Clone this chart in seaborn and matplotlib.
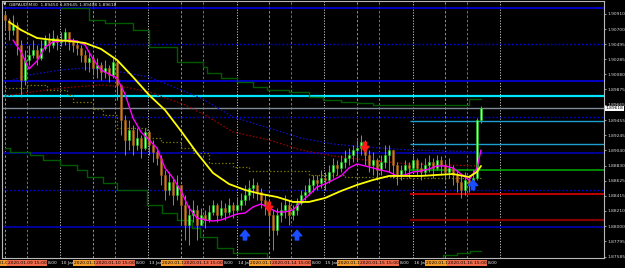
import numpy as np
import pandas as pd
import matplotlib
matplotlib.use("Agg")
import matplotlib.pyplot as plt
import matplotlib.transforms as mtransforms
from matplotlib import font_manager
import seaborn as sns

# ---------------- data ----------------
symbol = "GBPAUD,M30"
header_quote = [1.89450, 1.89645, 1.89408, 1.89618]   # O H L C of the last bar
bid = 1.89618
first_open = 1.90895

close = [
    1.90826, 1.90689, 1.90758, 1.90484, 1.90004, 1.90278, 1.90347, 1.90415, 1.90305, 1.90442,
    1.90552, 1.90484, 1.90579, 1.90525, 1.90552, 1.90662, 1.90525, 1.90484, 1.90442, 1.90347,
    1.90251, 1.90305, 1.90168, 1.90210, 1.90114, 1.90168, 1.90073, 1.90251, 1.89936, 1.89456,
    1.89182, 1.89319, 1.89114, 1.89209, 1.89072, 1.89292, 1.89114, 1.89018, 1.88935, 1.88703,
    1.88497, 1.88607, 1.88429, 1.88566, 1.88292, 1.88018, 1.88155, 1.88223, 1.88018, 1.88155,
    1.88086, 1.88196, 1.88292, 1.88155, 1.88250, 1.88196, 1.88292, 1.88223, 1.88292, 1.88360,
    1.88429, 1.88524, 1.88566, 1.88470, 1.88360, 1.88292, 1.88155, 1.87949, 1.88155, 1.88223,
    1.88292, 1.88155, 1.88223, 1.88319, 1.88429, 1.88470, 1.88566, 1.88634, 1.88593, 1.88661,
    1.88634, 1.88744, 1.88840, 1.88798, 1.88881, 1.88935, 1.88977, 1.89045, 1.89072, 1.89155,
    1.88977, 1.88840, 1.88908, 1.88771, 1.88881, 1.88977, 1.89045, 1.88840, 1.88703, 1.88771,
    1.88840, 1.88798, 1.88908, 1.88798, 1.88744, 1.88840, 1.88881, 1.88798, 1.88908, 1.88840,
    1.88744, 1.88798, 1.88703, 1.88607, 1.88497, 1.88634, 1.88566, 1.88661, 1.89450, 1.89618,
]
high = [
    1.90936, 1.90853, 1.90895, 1.90799, 1.90552, 1.90415, 1.90484, 1.90552, 1.90484, 1.90552,
    1.90621, 1.90648, 1.90689, 1.90621, 1.90662, 1.90716, 1.90621, 1.90579, 1.90552, 1.90484,
    1.90415, 1.90388, 1.90347, 1.90305, 1.90251, 1.90278, 1.90210, 1.90305, 1.90278, 1.89936,
    1.89525, 1.89456, 1.89388, 1.89346, 1.89251, 1.89346, 1.89319, 1.89182, 1.89072, 1.88977,
    1.88771, 1.88744, 1.88661, 1.88703, 1.88566, 1.88429, 1.88292, 1.88360, 1.88292, 1.88250,
    1.88223, 1.88292, 1.88360, 1.88319, 1.88360, 1.88319, 1.88387, 1.88333, 1.88387, 1.88456,
    1.88566, 1.88634, 1.88661, 1.88607, 1.88524, 1.88429, 1.88360, 1.88223, 1.88250, 1.88333,
    1.88429, 1.88360, 1.88292, 1.88387, 1.88497, 1.88566, 1.88661, 1.88703, 1.88703, 1.88771,
    1.88744, 1.88840, 1.88935, 1.88908, 1.88977, 1.89045, 1.89072, 1.89114, 1.89182, 1.89251,
    1.89182, 1.89045, 1.89018, 1.88935, 1.88977, 1.89114, 1.89114, 1.89045, 1.88881, 1.88840,
    1.88908, 1.88881, 1.88977, 1.88935, 1.88881, 1.88935, 1.88977, 1.88935, 1.88977, 1.88963,
    1.88908, 1.88935, 1.88840, 1.88771, 1.88703, 1.88744, 1.88703, 1.88771, 1.89483, 1.89645,
]
low = [
    1.90689, 1.90552, 1.90621, 1.90347, 1.89771, 1.89936, 1.90210, 1.90305, 1.90210, 1.90278,
    1.90415, 1.90388, 1.90442, 1.90415, 1.90470, 1.90484, 1.90415, 1.90388, 1.90347, 1.90251,
    1.90141, 1.90114, 1.90073, 1.90031, 1.90004, 1.90031, 1.89977, 1.90031, 1.89730, 1.89251,
    1.88977, 1.89045, 1.88977, 1.89045, 1.88935, 1.89045, 1.88977, 1.88881, 1.88840, 1.88566,
    1.88360, 1.88429, 1.88292, 1.88360, 1.88018, 1.87812, 1.87744, 1.88059, 1.87812, 1.88018,
    1.87976, 1.88059, 1.88155, 1.88059, 1.88113, 1.88086, 1.88155, 1.88113, 1.88196, 1.88223,
    1.88292, 1.88360, 1.88387, 1.88360, 1.88250, 1.88155, 1.87881, 1.87675, 1.87881, 1.88059,
    1.88113, 1.88018, 1.88086, 1.88155, 1.88292, 1.88360, 1.88429, 1.88470, 1.88497, 1.88524,
    1.88497, 1.88593, 1.88661, 1.88703, 1.88744, 1.88798, 1.88840, 1.88881, 1.88908, 1.88977,
    1.88840, 1.88744, 1.88703, 1.88634, 1.88703, 1.88798, 1.88744, 1.88661, 1.88566, 1.88634,
    1.88703, 1.88661, 1.88771, 1.88703, 1.88634, 1.88703, 1.88744, 1.88661, 1.88771, 1.88703,
    1.88634, 1.88661, 1.88566, 1.88470, 1.88387, 1.88429, 1.88470, 1.88497, 1.88634, 1.89408,
]

# fast MA (magenta)
fast_ma_bar = list(range(2, 119, 2)) + [119]
fast_ma = [
    1.90552, 1.90388, 1.90155, 1.90264, 1.90456, 1.90525, 1.90538, 1.90552, 1.90538, 1.90484,
    1.90292, 1.90141, 1.90086, 1.90031, 1.89812, 1.89483, 1.89292, 1.89182, 1.89072, 1.88798,
    1.88661, 1.88483, 1.88250, 1.88113, 1.88086, 1.88072, 1.88086, 1.88127, 1.88168, 1.88181,
    1.88264, 1.88305, 1.88250, 1.88196, 1.88196, 1.88223, 1.88333, 1.88429, 1.88538, 1.88579,
    1.88634, 1.88689, 1.88798, 1.88853, 1.88826, 1.88798, 1.88771, 1.88744, 1.88689, 1.88703,
    1.88744, 1.88757, 1.88785, 1.88826, 1.88826, 1.88798, 1.88716, 1.88634, 1.88798, 1.89045,
]
# slow MA (yellow)
slow_ma_bar = [1, 4, 8, 12, 16, 20, 24, 28, 32, 36, 40, 44, 48, 52, 56, 60, 64, 68, 72, 76,
               80, 84, 88, 92, 96, 100, 104, 108, 112, 116, 118, 119]
slow_ma = [
    1.90799, 1.90689, 1.90579, 1.90552, 1.90538, 1.90511, 1.90429, 1.90278, 1.90045, 1.89799,
    1.89593, 1.89305, 1.89004, 1.88730, 1.88579, 1.88497, 1.88442, 1.88401, 1.88333, 1.88333,
    1.88387, 1.88483, 1.88566, 1.88634, 1.88689, 1.88689, 1.88689, 1.88703, 1.88716, 1.88675,
    1.88744, 1.88826,
]
# long MAs (dotted)
blue_ma_bar = [2, 6, 14, 20, 26, 36, 41, 49, 57, 66, 74, 82, 90, 101, 119]
blue_ma = [1.90004, 1.90073, 1.90141, 1.90168, 1.90141, 1.90045, 1.89936, 1.89757,
           1.89497, 1.89346, 1.89209, 1.89127, 1.89086, 1.89045, 1.89018]
red_ma_bar = [0, 5, 14, 24, 30, 36, 45, 50, 57, 66, 74, 82, 90, 101, 119]
red_ma = [1.89785, 1.89826, 1.89894, 1.89936, 1.89908, 1.89840, 1.89662, 1.89525,
          1.89292, 1.89182, 1.89045, 1.88963, 1.88908, 1.88853, 1.88826]
# step channels
olive_bar = [0, 5.5, 10.5, 15.5, 17, 22, 24.5, 28, 35.5, 39, 44, 47, 51, 57, 61, 76, 85, 97.5, 119]
olive_lvl = [1.89894, 1.89936, 1.89867, 1.89799, 1.89703, 1.89607, 1.89525, 1.89346, 1.89209,
             1.89155, 1.89072, 1.89004, 1.88867, 1.88812, 1.88757, 1.88703, 1.88675, 1.88661, 1.88661]
upper_bar = [14, 21, 25, 32, 36, 43, 49.5, 50.5, 54, 58, 62, 65.5, 71, 76, 79.5, 84, 88, 92, 116, 119]
upper_lvl = [1.90990, 1.90826, 1.90785, 1.90689, 1.90456, 1.90251, 1.90182, 1.90100, 1.90031,
             1.89977, 1.89908, 1.89867, 1.89840, 1.89771, 1.89730, 1.89703, 1.89689, 1.89662,
             1.89744, 1.89744]
lower_bar = [0, 1.25, 6.25, 9.5, 13.75, 18, 20.5, 24.5, 28, 35.5, 39.25, 43, 46.75, 48.75,
             53, 57, 65.5, 109.5, 113, 116.25, 119]
lower_lvl = [1.89072, 1.89018, 1.88977, 1.88908, 1.88840, 1.88771, 1.88675, 1.88593, 1.88497,
             1.88292, 1.88181, 1.88086, 1.87976, 1.87853, 1.87702, 1.87634, 1.87538, 1.87607,
             1.87634, 1.87661, 1.87661]

# horizontal levels
full_levels = [1.90990, 1.90497, 1.89990, 1.89785, bid, 1.89497, 1.89004, 1.88497, 1.87990]
full_kinds = ["blue", "bluedot", "blue", "cyan", "gray", "bluedot", "navy", "bluedot", "navy"]
part_start_bar = 101.25
part_levels = [1.89442, 1.89127, 1.88771, 1.88442, 1.88086]
part_kinds = ["teal", "teal", "green", "red", "darkred"]

# signals
buy_bar = [60, 73, 117]
buy_price = [1.87945, 1.87945, 1.88634]
sell_bar = [66, 90]
sell_price = [1.88196, 1.89018]

# time markers
day_sep_bar = [13.75, 35.75, 58.0, 79.75, 102.0, 123.75]
day_labels = ["10 Jan 2020", "13 Jan 2020", "14 Jan 2020", "15 Jan 2020", "16 Jan 2020"]
orange_bar = [0, 22, 44, 66, 88, 110]
red_bar = [5.5, 27.5, 49.5, 71.5, 93.5, 115.5]
session_dates = ["2020.01.09", "2020.01.10", "2020.01.13", "2020.01.14", "2020.01.15", "2020.01.16"]
orange_time = "08:00"
red_time = "15:00"

price_ticks = [1.90910, 1.90700, 1.90495, 1.90285, 1.90080, 1.89875, 1.89665, 1.89455, 1.89245,
               1.89040, 1.88830, 1.88625, 1.88415, 1.88210, 1.88000, 1.87795, 1.87585]

# ---------------- style ----------------
sns.set_theme(style="dark", rc={"axes.facecolor": "black", "figure.facecolor": "black"})
names = {f.name for f in font_manager.fontManager.ttflist}
narrow = "Liberation Sans Narrow" if "Liberation Sans Narrow" in names else "DejaVu Sans"
plt.rcParams["font.family"] = [narrow, "DejaVu Sans"]
small = 4.0 if narrow != "DejaVu Sans" else 3.2
tick_fs = 4.3 if narrow != "DejaVu Sans" else 3.2

W, H = 625, 268
fig = plt.figure(figsize=(W / 100, H / 100), dpi=100)
ax = fig.add_axes([2 / W, 10 / H, 602 / W, 257 / H])
ax.set_facecolor("black")
ax.grid(False)
ax.set_xlim(-0.75, -0.75 + 602 / 4)
ax.set_ylim(1.87565, 1.91086)

# vertical separators
for b in day_sep_bar:
    ax.axvline(b, color="#c8c8c8", lw=0.7, ls=(0, (1.2, 1.6)), zorder=1)
for b in orange_bar:
    ax.axvline(b, color="#d0802e", lw=0.7, ls=(0, (2.5, 2)), zorder=1)
for b in red_bar:
    ax.axvline(b, color="#c05a44", lw=0.7, ls=(0, (2.5, 2)), zorder=1)

kind_style = {
    "blue": dict(color="#0000e6", lw=1.2, ls="-"),
    "bluedot": dict(color="#0000e6", lw=1.0, ls=(0, (1.2, 1.6))),
    "cyan": dict(color="#00e5ff", lw=1.6, ls="-"),
    "gray": dict(color="#7f8a96", lw=1.0, ls="-"),
    "navy": dict(color="#00009a", lw=1.4, ls="-"),
    "teal": dict(color="#1e9fd0", lw=1.0, ls="-"),
    "green": dict(color="#00a000", lw=1.2, ls="-"),
    "red": dict(color="#e00000", lw=1.2, ls="-"),
    "darkred": dict(color="#820000", lw=1.6, ls="-"),
}
for lvl, k in zip(full_levels, full_kinds):
    ax.axhline(lvl, zorder=2, **kind_style[k])
for lvl, k in zip(part_levels, part_kinds):
    ax.hlines(lvl, part_start_bar, ax.get_xlim()[1], zorder=2, **kind_style[k])

# dotted long MAs and step channels
sns.lineplot(x=blue_ma_bar, y=blue_ma, ax=ax, color="#1010d0", lw=0.9,
             ls=(0, (1.2, 1.6)), estimator=None, zorder=3)
sns.lineplot(x=red_ma_bar, y=red_ma, ax=ax, color="#a00000", lw=0.9,
             ls=(0, (1.2, 1.6)), estimator=None, zorder=3)
sns.lineplot(x=olive_bar, y=olive_lvl, ax=ax, color="#707000", lw=0.9,
             ls=(0, (1.2, 1.6)), drawstyle="steps-post", estimator=None, zorder=3)
sns.lineplot(x=upper_bar, y=upper_lvl, ax=ax, color="#005a00", lw=1.0,
             drawstyle="steps-post", estimator=None, zorder=3)
sns.lineplot(x=lower_bar, y=lower_lvl, ax=ax, color="#005a00", lw=1.0,
             drawstyle="steps-post", estimator=None, zorder=3)

# candles
opens = [first_open] + close[:-1]
df = pd.DataFrame({"bar": np.arange(len(close)), "open": opens, "high": high,
                   "low": low, "close": close})
df["top"] = df[["high", "open", "close"]].max(axis=1)
df["bot"] = df[["low", "open", "close"]].min(axis=1)
df["up"] = df["close"] >= df["open"]
for is_up, sub in df.groupby("up"):
    wick = "#22d022" if is_up else "#c87a20"
    face = "#9cff9c" if is_up else "#d2781e"
    edge = "#10c010" if is_up else "#9a5a14"
    ax.vlines(sub["bar"], sub["bot"], sub["top"], color=wick, lw=0.7, zorder=4)
    body = (sub["close"] - sub["open"]).abs().clip(lower=0.00004)
    ax.bar(sub["bar"], body, bottom=sub[["open", "close"]].min(axis=1), width=0.6,
           color=face, edgecolor=edge, lw=0.4, zorder=5)

# fast / slow MA
sns.lineplot(x=fast_ma_bar, y=fast_ma, ax=ax, color="#ff00ff", lw=1.0, estimator=None, zorder=6)
sns.lineplot(x=slow_ma_bar, y=slow_ma, ax=ax, color="#ffff00", lw=1.3, estimator=None, zorder=6)

# signal arrows
for b, p in zip(buy_bar, buy_price):
    ax.annotate("", xy=(b, p), xytext=(0, -7), textcoords="offset points",
                arrowprops=dict(arrowstyle="simple,head_length=0.5,head_width=0.85,tail_width=0.3",
                                color="#1a4dff", mutation_scale=8, shrinkA=0, shrinkB=0),
                zorder=8)
for b, p in zip(sell_bar, sell_price):
    ax.annotate("", xy=(b, p), xytext=(0, 7), textcoords="offset points",
                arrowprops=dict(arrowstyle="simple,head_length=0.5,head_width=0.7,tail_width=0.25",
                                color="#ff1a1a", mutation_scale=8, shrinkA=0, shrinkB=0),
                zorder=8)

# axes frame & price scale
for s in ax.spines.values():
    s.set_color("#b8b8b8")
    s.set_linewidth(0.8)
ax.set_xticks([])
ax.yaxis.tick_right()
ax.set_yticks(price_ticks)
ax.set_yticklabels([f"{v:.5f}" for v in price_ticks])
ax.tick_params(axis="y", colors="#d8d8d8", labelsize=tick_fs, length=1.5, width=0.5, pad=0.8)
ax.set_xlabel("")
ax.set_ylabel("")

ytr = mtransforms.blended_transform_factory(ax.transAxes, ax.transData)
ax.text(1.003, bid, f"{bid:.5f}", transform=ytr, fontsize=tick_fs, color="black", va="center",
        ha="left", bbox=dict(boxstyle="square,pad=0.12", fc="white", ec="none"),
        zorder=10, clip_on=False)

# header
fig.text(3 / W, 1 - 5 / H, "\u25bc", fontsize=3.0, color="#e0e0e0", va="center", ha="left",
         family="DejaVu Sans")
fig.text(9 / W, 1 - 5 / H, symbol + "  " + " ".join(f"{v:.5f}" for v in header_quote),
         fontsize=small, color="#e0e0e0", va="center", ha="left")

# time scale labels
xtr = mtransforms.blended_transform_factory(ax.transData, fig.transFigure)
yb = 5 / H
for b, lbl in zip(day_sep_bar, day_labels):
    ax.text(b + 0.3, yb, lbl, transform=xtr, fontsize=small, color="#e8e8e8", ha="left",
            va="center", zorder=1, clip_on=False)
for b in red_bar:
    ax.text(b + 5.3, yb, "8:00", transform=xtr, fontsize=small, color="#e8e8e8", ha="left",
            va="center", zorder=1, clip_on=False)
for b, d in zip(orange_bar, session_dates):
    ax.text(b, yb, f"{d} {orange_time}", transform=xtr, fontsize=small, color="black",
            ha="center", va="center", zorder=11, clip_on=False,
            bbox=dict(boxstyle="square,pad=0.12", fc="#f39c2b", ec="none"))
for b, d in zip(red_bar, session_dates):
    ax.text(b, yb, f"{d} {red_time}", transform=xtr, fontsize=small, color="black",
            ha="center", va="center", zorder=12, clip_on=False,
            bbox=dict(boxstyle="square,pad=0.12", fc="#f0694a", ec="none"))

fig.savefig("out.png", dpi=100, facecolor="black")
